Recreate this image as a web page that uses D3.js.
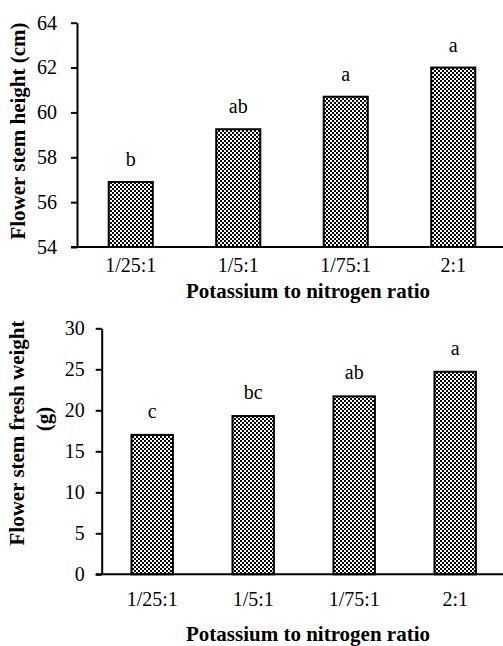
<!DOCTYPE html>
<html>
<head>
<meta charset="utf-8">
<script src="https://cdn.jsdelivr.net/npm/d3@7"></script>
<style>
  body { margin: 0; background: #fff; }
  .axis path, .axis line { stroke: #000; stroke-width: 2; }
</style>
</head>
<body>
<div id="chart"></div>
<script>
// data
let ratios = ["1/25:1", "1/5:1", "1/75:1", "2:1"];
let heightValues = [56.9, 59.25, 60.7, 62.0];
let heightLetters = ["b", "ab", "a", "a"];
let heightTicks = [54, 56, 58, 60, 62, 64];
let weightValues = [17.0, 19.3, 21.7, 24.7];
let weightLetters = ["c", "bc", "ab", "a"];
let weightTicks = [0, 5, 10, 15, 20, 25, 30];

let svgWidth = 503,
  svgHeight = 646;
let serif = "Liberation Serif";

let svg = d3
  .select("#chart")
  .append("svg")
  .attr("width", svgWidth)
  .attr("height", svgHeight)
  .attr("font-family", serif);

// checkerboard fill like the excel pattern
let pattern = svg
  .append("defs")
  .append("pattern")
  .attr("id", "checker")
  .attr("patternUnits", "userSpaceOnUse")
  .attr("width", 4)
  .attr("height", 4);
pattern.append("rect").attr("width", 4).attr("height", 4).attr("fill", "#fff");
pattern.append("rect").attr("width", 2).attr("height", 2).attr("fill", "#000");
pattern.append("rect").attr("x", 2).attr("y", 2).attr("width", 2).attr("height", 2).attr("fill", "#000");

// draw one panel
function drawPanel(opts) {
  let x = d3
    .scaleBand()
    .domain(ratios)
    .range([opts.left, opts.right])
    .paddingInner(0.59)
    .paddingOuter(0.295);

  let y = d3.scaleLinear().domain(opts.domain).range([opts.bottom, opts.top]);

  // bars
  svg
    .append("g")
    .selectAll("rect")
    .data(opts.values)
    .enter()
    .append("rect")
    .attr("x", (d, i) => x(ratios[i]))
    .attr("y", (d) => y(d))
    .attr("width", x.bandwidth())
    .attr("height", (d) => opts.bottom - y(d))
    .attr("fill", "url(#checker)")
    .attr("stroke", "#000")
    .attr("stroke-width", 2);

  // significance letters
  svg
    .append("g")
    .selectAll("text")
    .data(opts.values)
    .enter()
    .append("text")
    .attr("x", (d, i) => x(ratios[i]) + x.bandwidth() / 2)
    .attr("y", (d) => y(d) - opts.letterGap)
    .attr("text-anchor", "middle")
    .style("font-family", serif)
    .style("font-size", "20px")
    .text((d, i) => opts.letters[i]);

  // y axis
  let yAxis = svg
    .append("g")
    .attr("class", "axis")
    .attr("transform", `translate(${opts.left}, 0)`)
    .call(d3.axisLeft(y).tickValues(opts.ticks).tickSize(6).tickPadding(opts.tickPad).tickSizeOuter(0));
  yAxis
    .selectAll("text")
    .style("font-family", serif)
    .style("font-size", "20px")
    .attr("fill", "#000");

  // x axis line
  svg
    .append("line")
    .attr("x1", opts.left - 6)
    .attr("x2", svgWidth)
    .attr("y1", opts.bottom)
    .attr("y2", opts.bottom)
    .attr("stroke", "#000")
    .attr("stroke-width", 2);

  // category labels
  svg
    .append("g")
    .selectAll("text")
    .data(ratios)
    .enter()
    .append("text")
    .attr("x", (d) => x(d) + x.bandwidth() / 2)
    .attr("y", opts.bottom + opts.catGap)
    .attr("text-anchor", "middle")
    .style("font-family", serif)
    .style("font-size", "20px")
    .text((d) => d);

  // x title
  svg
    .append("text")
    .attr("x", 308)
    .attr("y", opts.xTitleY)
    .attr("text-anchor", "middle")
    .style("font-family", serif)
    .style("font-size", "21px")
    .style("font-weight", "bold")
    .text("Potassium to nitrogen ratio");

  // y title lines
  opts.yTitle.forEach((t) => {
    svg
      .append("text")
      .attr("transform", `translate(${t.x}, ${t.y}) rotate(-90)`)
      .attr("dy", "0.35em")
      .attr("text-anchor", "middle")
      .style("font-family", serif)
      .style("font-size", "21px")
      .style("font-weight", "bold")
      .text(t.text);
  });
}

drawPanel({
  values: heightValues,
  letters: heightLetters,
  ticks: heightTicks,
  domain: [54, 64],
  left: 77,
  right: 507,
  top: 22.7,
  bottom: 247,
  letterGap: 16,
  tickPad: 14,
  catGap: 25,
  xTitleY: 298,
  yTitle: [{ x: 18, y: 131, text: "Flower stem height (cm)" }],
});

drawPanel({
  values: weightValues,
  letters: weightLetters,
  ticks: weightTicks,
  domain: [0, 30],
  left: 101.7,
  right: 505.7,
  top: 328.3,
  bottom: 574.3,
  letterGap: 17,
  tickPad: 11,
  catGap: 32,
  xTitleY: 641,
  yTitle: [
    { x: 17, y: 433, text: "Flower stem fresh weight" },
    { x: 44, y: 419, text: "(g)" },
  ],
});
</script>
</body>
</html>
